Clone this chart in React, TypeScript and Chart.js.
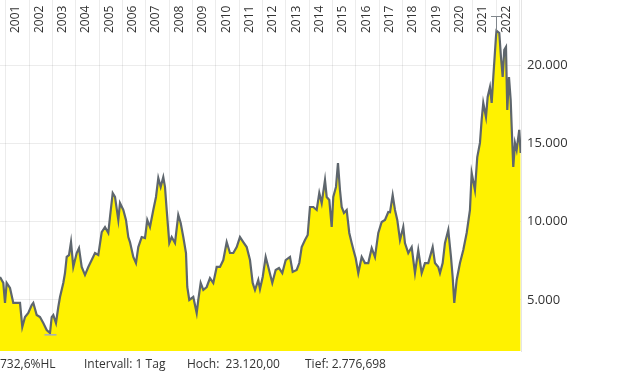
import React, { useEffect, useRef } from "react";
import { Chart, registerables } from "chart.js";

Chart.register(...registerables);

// decimal years
const DATES: number[] = [
  2000.756, 2000.897, 2000.97, 2001.043, 2001.184, 2001.326, 2001.471, 2001.613, 2001.711, 2001.827,
  2001.968, 2002.114, 2002.182, 2002.328, 2002.469, 2002.61, 2002.756, 2002.897, 2002.97, 2003.039,
  2003.154, 2003.253, 2003.326, 2003.467, 2003.54, 2003.613, 2003.711, 2003.797, 2003.895, 2004.041,
  2004.139, 2004.255, 2004.396, 2004.538, 2004.683, 2004.825, 2004.966, 2005.112, 2005.253, 2005.394,
  2005.467, 2005.583, 2005.681, 2005.823, 2005.895, 2006.037, 2006.152, 2006.251, 2006.323, 2006.465,
  2006.58, 2006.679, 2006.824, 2006.966, 2007.064, 2007.18, 2007.321, 2007.437, 2007.536, 2007.638,
  2007.749, 2007.822, 2007.895, 2008.007, 2008.109, 2008.251, 2008.392, 2008.495, 2008.606, 2008.722,
  2008.777, 2008.863, 2009.034, 2009.18, 2009.248, 2009.351, 2009.463, 2009.608, 2009.749, 2009.891,
  2010.037, 2010.178, 2010.319, 2010.465, 2010.606, 2010.748, 2010.893, 2011.034, 2011.176, 2011.321,
  2011.463, 2011.578, 2011.677, 2011.818, 2011.891, 2012.007, 2012.135, 2012.247, 2012.418, 2012.563,
  2012.705, 2012.846, 2012.992, 2013.176, 2013.291, 2013.462, 2013.574, 2013.677, 2013.818, 2013.934,
  2014.032, 2014.174, 2014.319, 2014.431, 2014.534, 2014.675, 2014.748, 2014.859, 2014.962, 2015.03,
  2015.146, 2015.231, 2015.317, 2015.39, 2015.488, 2015.604, 2015.715, 2015.818, 2015.929, 2015.989,
  2016.101, 2016.247, 2016.388, 2016.529, 2016.675, 2016.816, 2016.958, 2017.103, 2017.244, 2017.386,
  2017.459, 2017.574, 2017.673, 2017.771, 2017.887, 2018.028, 2018.1, 2018.242, 2018.388, 2018.529,
  2018.67, 2018.816, 2018.957, 2019.099, 2019.287, 2019.386, 2019.527, 2019.6, 2019.715, 2019.814,
  2019.955, 2020.071, 2020.143, 2020.212, 2020.315, 2020.456, 2020.598, 2020.743, 2020.884, 2020.957,
  2021.098, 2021.197, 2021.312, 2021.385, 2021.454, 2021.57, 2021.642, 2021.741, 2021.814, 2021.883,
  2021.998, 2022.02, 2022.14, 2022.212, 2022.285, 2022.354, 2022.427, 2022.482, 2022.555, 2022.628,
  2022.671, 2022.739, 2022.812, 2022.884, 2022.995, 2023.055,
];

const VALUES: number[] = [
  6470, 6090, 4810, 6090, 5770, 4810, 4810, 4810, 3280, 3910,
  4170, 4680, 4810, 4040, 3910, 3530, 3080, 2890, 3910, 4040,
  3530, 4550, 5190, 6090, 6720, 7750, 7870, 8700, 7110, 8000,
  8320, 7110, 6600, 7110, 7550, 8000, 7870, 9340, 9660, 9280,
  10300, 11830, 11580, 10110, 11190, 10750, 10110, 9020, 8700, 7750,
  7360, 8380, 9020, 8960, 10110, 9660, 10750, 11580, 12790, 12220,
  12850, 12220, 10750, 8640, 9020, 8640, 10430, 9920, 9020, 8000,
  5830, 5000, 5190, 4170, 5000, 6090, 5640, 5830, 6400, 6090,
  7110, 7110, 7550, 8700, 8000, 8000, 8380, 9020, 8700, 8380,
  7550, 6090, 5640, 6280, 5700, 6470, 7750, 7110, 6090, 6920,
  7040, 6720, 7550, 7750, 6790, 6920, 7360, 8380, 8830, 9150,
  10940, 10940, 10750, 11830, 11190, 12660, 11580, 11390, 9660, 11580,
  12220, 13750, 12020, 10940, 10560, 10750, 9280, 8640, 8000, 7680,
  6720, 7750, 7360, 7360, 8320, 7750, 9280, 9980, 10110, 10620,
  10600, 11700, 10750, 10110, 8830, 9660, 8640, 8000, 8380, 6720,
  8190, 6720, 7360, 7360, 8380, 7360, 7110, 6720, 7360, 8640,
  9470, 7750, 6470, 4810, 6280, 7360, 8190, 9280, 10750, 13110,
  12020, 14130, 15030, 16500, 17580, 16690, 17960, 18600, 17580, 19240,
  21800, 22200, 22050, 20520, 19240, 20970, 21160, 17130, 19240, 17770,
  16050, 13490, 15030, 14580, 15860, 14390,
];

const YEAR_LABELS: number[] = [
  2001, 2002, 2003, 2004, 2005, 2006, 2007, 2008, 2009, 2010, 2011,
  2012, 2013, 2014, 2015, 2016, 2017, 2018, 2019, 2020, 2021, 2022,
];
const YEAR_GRID: number[] = [...YEAR_LABELS, 2023];
const Y_TICKS: number[] = [5000, 10000, 15000, 20000];

const HIGH_DATE = 2022.02;
const HIGH_VALUE = 23120;
const LOW_DATE = 2002.919;
const LOW_VALUE = 2776.698;

const STATS: string[] = ["732,6%HL", "Intervall: 1 Tag", "Hoch:  23.120,00", "Tief: 2.776,698"];

const X_MIN = 2000.756;
const X_MAX = 2023.07;
const Y_MIN = 1743;
const Y_MAX = 24157;

const fmt = (v: number) => String(Math.round(v)).replace(/\B(?=(\d{3})+(?!\d))/g, ".");

const FONT = "'Open Sans', 'DejaVu Sans', sans-serif";

const overlayPlugin = {
  id: "overlay",
  afterDatasetsDraw(chart: any) {
    const { ctx, scales } = chart;
    const xs = scales.x;
    const ys = scales.y;
    ctx.save();
    // high marker
    const hx = xs.getPixelForValue(HIGH_DATE);
    const hy = ys.getPixelForValue(HIGH_VALUE);
    const peak = ys.getPixelForValue(Math.max(...VALUES));
    ctx.strokeStyle = "#80868c";
    ctx.lineWidth = 1;
    ctx.beginPath();
    ctx.moveTo(Math.round(hx) - 5, Math.round(hy) + 0.5);
    ctx.lineTo(Math.round(hx) + 6, Math.round(hy) + 0.5);
    ctx.moveTo(Math.round(hx) + 0.5, hy);
    ctx.lineTo(Math.round(hx) + 0.5, peak);
    ctx.stroke();
    // low marker
    const lx = xs.getPixelForValue(LOW_DATE);
    const ly = ys.getPixelForValue(LOW_VALUE);
    ctx.strokeStyle = "#a3abc2";
    ctx.lineWidth = 1.5;
    ctx.beginPath();
    ctx.moveTo(lx - 6, ly);
    ctx.lineTo(lx + 6, ly);
    ctx.stroke();
    ctx.restore();
  },
  afterDraw(chart: any) {
    const { ctx, scales } = chart;
    const xs = scales.x;
    ctx.save();
    ctx.fillStyle = "#333333";
    ctx.font = `12px ${FONT}`;
    ctx.textAlign = "left";
    ctx.textBaseline = "alphabetic";
    for (const yr of YEAR_LABELS) {
      const cx = (xs.getPixelForValue(yr) + xs.getPixelForValue(yr + 1)) / 2 + 2;
      ctx.save();
      ctx.translate(cx, 33);
      ctx.rotate(-Math.PI / 2);
      ctx.fillText(String(yr), 0, 0);
      ctx.restore();
    }
    // stats line
    const statX = [0, 84, 187, 305];
    ctx.font = `12px ${FONT}`;
    STATS.forEach((s, i) => ctx.fillText(s, statX[i], 368));
    ctx.restore();
  },
};

export default function App() {
  const ref = useRef<HTMLCanvasElement | null>(null);
  useEffect(() => {
    document.body.style.margin = "0";
    const canvas = ref.current;
    if (!canvas) return;
    Chart.defaults.font.family = FONT;
    const chart = new Chart(canvas, {
      type: "line",
      data: {
        datasets: [
          {
            data: DATES.map((d, i) => ({ x: d, y: VALUES[i] })),
            borderColor: "#5e666d",
            borderWidth: 2.2,
            backgroundColor: "#fff200",
            fill: "start",
            pointRadius: 0,
            tension: 0,
          },
        ],
      },
      options: {
        animation: false,
        responsive: false,
        maintainAspectRatio: false,
        layout: { padding: { left: 0, top: 0, right: 0, bottom: 21 } },
        plugins: { legend: { display: false }, tooltip: { enabled: false } },
        scales: {
          x: {
            type: "linear",
            position: "bottom",
            min: X_MIN,
            max: X_MAX,
            z: 1,
            afterBuildTicks: (s: any) => {
              s.ticks = YEAR_GRID.map((v) => ({ value: v }));
            },
            afterFit: (s: any) => {
              s.height = 0;
              s.paddingLeft = 0;
              s.paddingRight = 0;
              s.paddingTop = 0;
              s.paddingBottom = 0;
            },
            ticks: { display: false },
            grid: { color: "rgba(0,0,0,0.075)", drawTicks: false, lineWidth: 1 },
            border: { display: false },
          },
          y: {
            type: "linear",
            position: "right",
            min: Y_MIN,
            max: Y_MAX,
            z: 1,
            afterBuildTicks: (s: any) => {
              s.ticks = Y_TICKS.map((v) => ({ value: v }));
            },
            afterFit: (s: any) => {
              s.width = 99;
              s.paddingTop = 0;
              s.paddingBottom = 0;
              s.paddingLeft = 0;
              s.paddingRight = 0;
            },
            ticks: {
              padding: 6,
              color: "#333333",
              font: { size: 13, family: FONT },
              callback: (v: any) => fmt(Number(v)),
            },
            grid: { color: "rgba(0,0,0,0.075)", drawTicks: false },
            border: { display: true, color: "rgba(0,0,0,0.1)" },
          },
        },
      },
      plugins: [overlayPlugin],
    });
    return () => chart.destroy();
  }, []);
  return (
    <div style={{ position: "absolute", left: 0, top: 0, width: 620, height: 372 }}>
      <canvas ref={ref} width={620} height={372} style={{ width: 620, height: 372, display: "block" }} />
    </div>
  );
}
